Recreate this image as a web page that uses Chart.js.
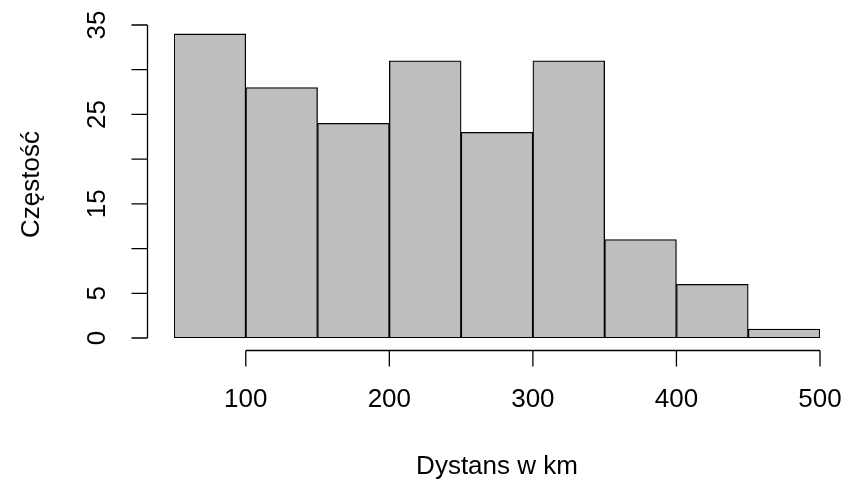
<!DOCTYPE html>
<html>
<head>
<meta charset="utf-8">
<script src="https://cdn.jsdelivr.net/npm/chart.js@4"></script>
<style>
  body { margin: 0; background: #fff; }
  #wrap { width: 858px; height: 487px; }
</style>
</head>
<body>
<div id="wrap"><canvas id="hist"></canvas></div>
<script>
// histogram data
const binEdges = [50, 100, 150, 200, 250, 300, 350, 400, 450, 500];
const counts = [34, 28, 24, 31, 23, 31, 11, 6, 1];
// axis ticks
const xTicks = [100, 200, 300, 400, 500];
const yTicks = [0, 5, 10, 15, 20, 25, 30, 35];
const yTickLabels = [0, 5, 15, 25, 35];
const xTitle = 'Dystans w km';
const yTitle = 'Częstość';

const FONT = '26px "Liberation Sans", Arial, sans-serif';

var bars = counts.map((c, i) => ({ x: (binEdges[i] + binEdges[i + 1]) / 2, y: c }));

// R-style detached axes
const rAxes = {
    id: 'rAxes',
    afterDraw(chart) {
        const ctx = chart.ctx;
        const xs = chart.scales.x;
        const ys = chart.scales.y;
        ctx.save();
        ctx.strokeStyle = '#000';
        ctx.fillStyle = '#000';
        ctx.lineWidth = 1.3;
        ctx.font = FONT;

        // y axis
        const ax = 147.5;
        ctx.beginPath();
        ctx.moveTo(ax, ys.getPixelForValue(yTicks[0]));
        ctx.lineTo(ax, ys.getPixelForValue(yTicks[yTicks.length - 1]));
        yTicks.forEach(v => {
            const py = ys.getPixelForValue(v);
            ctx.moveTo(ax, py);
            ctx.lineTo(ax - 16, py);
        });
        ctx.stroke();
        ctx.textAlign = 'center';
        ctx.textBaseline = 'middle';
        yTickLabels.forEach(v => {
            ctx.save();
            ctx.translate(98, ys.getPixelForValue(v));
            ctx.rotate(-Math.PI / 2);
            ctx.fillText(String(v), 0, 0);
            ctx.restore();
        });

        // x axis
        const ay = 350.5;
        ctx.beginPath();
        ctx.moveTo(xs.getPixelForValue(xTicks[0]), ay);
        ctx.lineTo(xs.getPixelForValue(xTicks[xTicks.length - 1]), ay);
        xTicks.forEach(v => {
            const px = xs.getPixelForValue(v);
            ctx.moveTo(px, ay);
            ctx.lineTo(px, ay + 16);
        });
        ctx.stroke();
        xTicks.forEach(v => {
            ctx.fillText(String(v), xs.getPixelForValue(v), 400);
        });

        // titles
        const area = chart.chartArea;
        ctx.fillText(xTitle, (area.left + area.right) / 2, 467);
        ctx.save();
        ctx.translate(32, (area.top + area.bottom) / 2 + 3);
        ctx.rotate(-Math.PI / 2);
        ctx.fillText(yTitle, 0, 0);
        ctx.restore();

        ctx.restore();
    }
};

new Chart(document.getElementById('hist').getContext('2d'), {
    type: 'bar',
    data: {
        datasets: [{
            label: 'Częstość',
            data: bars,
            backgroundColor: '#bebebe',
            borderColor: '#000',
            borderWidth: 1.3,
            borderSkipped: false,
            barPercentage: 1,
            categoryPercentage: 1
        }]
    },
    options: {
        responsive: true,
        maintainAspectRatio: false,
        animation: false,
        layout: {
            padding: { left: 174, right: 38, top: 25, bottom: 149 }
        },
        plugins: {
            legend: { display: false },
            tooltip: { enabled: false }
        },
        scales: {
            x: {
                type: 'linear',
                min: 50,
                max: 500,
                offset: false,
                display: false
            },
            y: {
                min: 0,
                max: 35,
                display: false
            }
        }
    },
    plugins: [rAxes]
});
</script>
</body>
</html>
